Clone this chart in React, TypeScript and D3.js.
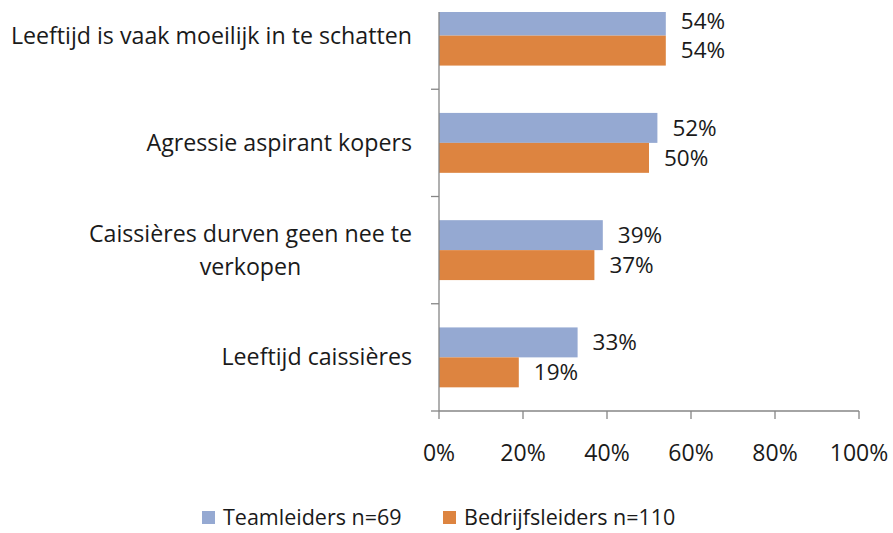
import React, { useEffect, useRef } from "react"
import * as d3 from "d3"

const categories = [
  "Leeftijd is vaak moeilijk in te schatten",
  "Agressie aspirant kopers",
  "Caissières durven geen nee te|verkopen",
  "Leeftijd caissières",
]
const teamleiders = [54, 52, 39, 33]
const bedrijfsleiders = [54, 50, 37, 19]
const seriesNames = ["Teamleiders n=69", "Bedrijfsleiders n=110"]
const seriesColors = ["#95a9d2", "#dd8440"]
const xTicks = [0, 20, 40, 60, 80, 100]

const App = () => {
  const ref = useRef<SVGSVGElement>(null)

  useEffect(() => {
    document.body.style.margin = "0"
    const width = 893
    const height = 533
    const svg = d3.select(ref.current)
    svg.selectAll("*").remove()

    const font = "'Open Sans', sans-serif"
    const left = 439
    const right = 859
    const bottom = 411
    const plotTop = 12
    const band = 107.25

    const xScale = d3.scaleLinear().domain([0, 100]).range([left, right])
    const yScale = d3.scaleBand<string>()
      .domain(categories)
      .range([bottom - band * categories.length, bottom])
    const ySub = d3.scaleBand<string>()
      .domain(seriesNames)
      .range([0, yScale.bandwidth()])
      .paddingOuter(0.79)

    svg.append("defs").append("clipPath").attr("id", "plotClip")
      .append("rect")
      .attr("x", left).attr("y", plotTop)
      .attr("width", right - left + 40).attr("height", bottom - plotTop)

    const data = categories.map((c, i) => ({ cat: c, vals: [teamleiders[i], bedrijfsleiders[i]] }))

    const groups = svg.append("g").attr("clip-path", "url(#plotClip)")
    data.forEach(d => {
      d.vals.forEach((v, j) => {
        const y0 = (yScale(d.cat) as number) + (ySub(seriesNames[j]) as number)
        groups.append("rect")
          .attr("x", xScale(0))
          .attr("y", y0)
          .attr("width", xScale(v) - xScale(0))
          .attr("height", ySub.bandwidth())
          .attr("fill", seriesColors[j])
      })
    })

    // value labels
    data.forEach(d => {
      d.vals.forEach((v, j) => {
        const yc = (yScale(d.cat) as number) + (ySub(seriesNames[j]) as number) + ySub.bandwidth() / 2
        svg.append("text")
          .attr("x", xScale(v) + 15)
          .attr("y", Math.max(yc, 21))
          .attr("dy", "0.35em")
          .attr("font-family", font)
          .attr("font-size", 22.5)
          .attr("fill", "#1a1a1a")
          .text(v + "%")
      })
    })

    const axisColor = "#868686"
    // y axis line
    svg.append("line")
      .attr("x1", left).attr("x2", left)
      .attr("y1", plotTop).attr("y2", bottom)
      .attr("stroke", axisColor).attr("stroke-width", 1.3)
    // y ticks at band boundaries
    categories.forEach(c => {
      const yb = (yScale(c) as number) + yScale.bandwidth()
      svg.append("line")
        .attr("x1", left - 8).attr("x2", left)
        .attr("y1", yb).attr("y2", yb)
        .attr("stroke", axisColor).attr("stroke-width", 1.3)
    })
    // x axis line
    svg.append("line")
      .attr("x1", left).attr("x2", right)
      .attr("y1", bottom).attr("y2", bottom)
      .attr("stroke", axisColor).attr("stroke-width", 1.3)
    xTicks.forEach(t => {
      svg.append("line")
        .attr("x1", xScale(t)).attr("x2", xScale(t))
        .attr("y1", bottom).attr("y2", bottom + 8)
        .attr("stroke", axisColor).attr("stroke-width", 1.3)
      svg.append("text")
        .attr("x", xScale(t))
        .attr("y", 453)
        .attr("dy", "0.35em")
        .attr("text-anchor", "middle")
        .attr("font-family", font)
        .attr("font-size", 23)
        .attr("fill", "#1a1a1a")
        .text(t + "%")
    })

    // category labels (multi-line ones are centred on each other)
    categories.forEach(c => {
      const lines = c.split("|")
      const yc = (yScale(c) as number) + yScale.bandwidth() / 2
      const lh = 33
      const txt = svg.append("text")
        .attr("font-family", font)
        .attr("font-size", 23.2)
        .attr("fill", "#1a1a1a")
      const spans = lines.map((ln, k) =>
        txt.append("tspan")
          .attr("y", yc - ((lines.length - 1) * lh) / 2 + k * lh)
          .attr("dy", "0.35em")
          .text(ln))
      const widths = spans.map(s => (s.node() as SVGTSpanElement).getComputedTextLength())
      const maxW = d3.max(widths) as number
      spans.forEach((s, k) => s.attr("x", 412 - maxW / 2 - widths[k] / 2))
    })

    // legend
    const legendX = [202, 443]
    seriesNames.forEach((s, j) => {
      svg.append("rect")
        .attr("x", legendX[j]).attr("y", 511)
        .attr("width", 13).attr("height", 13)
        .attr("fill", seriesColors[j])
      svg.append("text")
        .attr("x", legendX[j] + 21)
        .attr("y", 517)
        .attr("dy", "0.35em")
        .attr("font-family", font)
        .attr("font-size", 21.5)
        .attr("fill", "#1a1a1a")
        .text(s)
    })

    svg.attr("width", width).attr("height", height)
  }, [])

  return <svg ref={ref} width={893} height={533} style={{ display: "block", background: "#fff" }} />
}

export default App
